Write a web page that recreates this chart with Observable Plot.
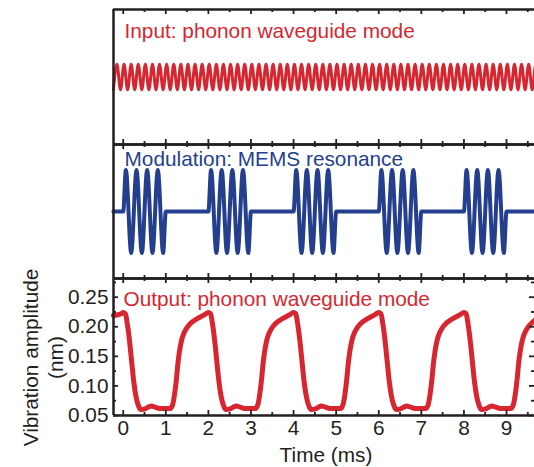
<!DOCTYPE html>
<html>
<head>
<meta charset="utf-8">
<script src="https://cdn.jsdelivr.net/npm/d3@7"></script>
<script src="https://cdn.jsdelivr.net/npm/@observablehq/plot@0.6"></script>
<style>
  html, body { margin: 0; padding: 0; background: #fff; }
  #chart { position: relative; width: 534px; height: 467px; overflow: hidden; background: #fff; }
  #chart svg { position: absolute; left: 0; top: 0; }
</style>
</head>
<body>
<div id="chart"></div>
<script>
// ---------- data ----------
// Panel titles
const inputTitle = "Input: phonon waveguide mode";
const modTitle = "Modulation: MEMS resonance";
const outTitle = "Output: phonon waveguide mode";
const yLabel = "Vibration amplitude\n(nm)";
const xLabel = "Time (ms)";

// Tick values
const xMajor = [0, 1, 2, 3, 4, 5, 6, 7, 8, 9];
const xMinor = [0.5, 1.5, 2.5, 3.5, 4.5, 5.5, 6.5, 7.5, 8.5, 9.5];
const yMajor = [0.05, 0.10, 0.15, 0.20, 0.25];
const yMinor = [0.075, 0.125, 0.175, 0.225, 0.275];

// Input wave: times (ms) of troughs and crests (schematic, unit amplitude)
const inputTroughTimes = [-0.230, -0.063, 0.103, 0.270, 0.437, 0.603, 0.770, 0.937, 1.103, 1.270, 1.437, 1.603, 1.770, 1.937,
  2.103, 2.270, 2.437, 2.603, 2.770, 2.937, 3.103, 3.270, 3.437, 3.603, 3.770, 3.937, 4.103, 4.270, 4.437, 4.603, 4.770, 4.937,
  5.103, 5.270, 5.437, 5.603, 5.770, 5.937, 6.103, 6.270, 6.437, 6.603, 6.770, 6.937, 7.103, 7.270, 7.437, 7.603, 7.770, 7.937,
  8.103, 8.270, 8.437, 8.603, 8.770, 8.937, 9.103, 9.270, 9.437, 9.603, 9.770];
const inputCrestTimes = [-0.147, 0.020, 0.187, 0.353, 0.520, 0.687, 0.853, 1.020, 1.187, 1.353, 1.520, 1.687, 1.853, 2.020,
  2.187, 2.353, 2.520, 2.687, 2.853, 3.020, 3.187, 3.353, 3.520, 3.687, 3.853, 4.020, 4.187, 4.353, 4.520, 4.687, 4.853, 5.020,
  5.187, 5.353, 5.520, 5.687, 5.853, 6.020, 6.187, 6.353, 6.520, 6.687, 6.853, 7.020, 7.187, 7.353, 7.520, 7.687, 7.853, 8.020,
  8.187, 8.353, 8.520, 8.687, 8.853, 9.020, 9.187, 9.353, 9.520, 9.687];
const inputCrest = 1, inputTrough = -1;

// Modulation (MEMS drive bursts): time (ms) and normalized displacement
const modTime = [-0.23,
  0, 0.0625, 0.1875, 0.3125, 0.4375, 0.5625, 0.6875, 0.8125, 0.9375, 1,
  2, 2.0625, 2.1875, 2.3125, 2.4375, 2.5625, 2.6875, 2.8125, 2.9375, 3,
  4, 4.0625, 4.1875, 4.3125, 4.4375, 4.5625, 4.6875, 4.8125, 4.9375, 5,
  6, 6.0625, 6.1875, 6.3125, 6.4375, 6.5625, 6.6875, 6.8125, 6.9375, 7,
  8, 8.0625, 8.1875, 8.3125, 8.4375, 8.5625, 8.6875, 8.8125, 8.9375, 9,
  9.66];
const modValue = [0,
  0, 1, -1, 1, -1, 1, -1, 1, -1, 0,
  0, 1, -1, 1, -1, 1, -1, 1, -1, 0,
  0, 1, -1, 1, -1, 1, -1, 1, -1, 0,
  0, 1, -1, 1, -1, 1, -1, 1, -1, 0,
  0, 1, -1, 1, -1, 1, -1, 1, -1, 0,
  0];

// Output: measured vibration amplitude (nm) vs time (ms)
const outTime = [-0.23, -0.15, -0.05,
  0.00, 0.05, 0.10, 0.15, 0.20, 0.25, 0.30, 0.35, 0.42, 0.50, 0.58, 0.66, 0.75, 0.85, 1.00, 1.10, 1.16, 1.21, 1.25, 1.28, 1.32, 1.37, 1.43, 1.50, 1.60, 1.70, 1.80, 1.90,
  2.00, 2.05, 2.10, 2.15, 2.20, 2.25, 2.30, 2.35, 2.42, 2.50, 2.58, 2.66, 2.75, 2.85, 3.00, 3.10, 3.16, 3.21, 3.25, 3.28, 3.32, 3.37, 3.43, 3.50, 3.60, 3.70, 3.80, 3.90,
  4.00, 4.05, 4.10, 4.15, 4.20, 4.25, 4.30, 4.35, 4.42, 4.50, 4.58, 4.66, 4.75, 4.85, 5.00, 5.10, 5.16, 5.21, 5.25, 5.28, 5.32, 5.37, 5.43, 5.50, 5.60, 5.70, 5.80, 5.90,
  6.00, 6.05, 6.10, 6.15, 6.20, 6.25, 6.30, 6.35, 6.42, 6.50, 6.58, 6.66, 6.75, 6.85, 7.00, 7.10, 7.16, 7.21, 7.25, 7.28, 7.32, 7.37, 7.43, 7.50, 7.60, 7.70, 7.80, 7.90,
  8.00, 8.05, 8.10, 8.15, 8.20, 8.25, 8.30, 8.35, 8.42, 8.50, 8.58, 8.66, 8.75, 8.85, 9.00, 9.10, 9.16, 9.21, 9.25, 9.28, 9.32, 9.37, 9.43, 9.50, 9.60, 9.66];
const outAmp = [0.219, 0.220, 0.222,
  0.224, 0.222, 0.203, 0.175, 0.140, 0.106, 0.082, 0.068, 0.060, 0.061, 0.064, 0.066, 0.064, 0.062, 0.062, 0.062, 0.068, 0.088, 0.112, 0.135, 0.158, 0.177, 0.190, 0.199, 0.207, 0.212, 0.216, 0.220,
  0.224, 0.222, 0.203, 0.175, 0.140, 0.106, 0.082, 0.068, 0.060, 0.061, 0.064, 0.066, 0.064, 0.062, 0.062, 0.062, 0.068, 0.088, 0.112, 0.135, 0.158, 0.177, 0.190, 0.199, 0.207, 0.212, 0.216, 0.220,
  0.224, 0.222, 0.203, 0.175, 0.140, 0.106, 0.082, 0.068, 0.060, 0.061, 0.064, 0.066, 0.064, 0.062, 0.062, 0.062, 0.068, 0.088, 0.112, 0.135, 0.158, 0.177, 0.190, 0.199, 0.207, 0.212, 0.216, 0.220,
  0.224, 0.222, 0.203, 0.175, 0.140, 0.106, 0.082, 0.068, 0.060, 0.061, 0.064, 0.066, 0.064, 0.062, 0.062, 0.062, 0.068, 0.088, 0.112, 0.135, 0.158, 0.177, 0.190, 0.199, 0.207, 0.212, 0.216, 0.220,
  0.224, 0.222, 0.203, 0.175, 0.140, 0.106, 0.082, 0.068, 0.060, 0.061, 0.064, 0.066, 0.064, 0.062, 0.062, 0.062, 0.068, 0.088, 0.112, 0.135, 0.158, 0.177, 0.190, 0.199, 0.207, 0.211];

// ---------- layout & style ----------
const W = 534, H = 467;
const LEFT = 113;
const xDomain = [-0.228, 9.657];
const RED = "#d7262f", BLUE = "#253f8f", INK = "#231f20";
const FONT = "'Liberation Sans', Arial, Helvetica, sans-serif";
const FS = 20.8;
const BORDER = 2.5, TICKW = 1.8, MAJ = 5, MIN = 3;

const inputData = [
  ...inputTroughTimes.map(t => ({t, v: inputTrough})),
  ...inputCrestTimes.map(t => ({t, v: inputCrest}))
].sort((a, b) => a.t - b.t);
const modData = modTime.map((t, i) => ({t, v: modValue[i]}));
const outData = outTime.map((t, i) => ({t, v: outAmp[i]}));

function frameMarks(ph) {
  return [
    Plot.ruleX(xMajor, {x: d => d, insetTop: ph - MAJ, stroke: INK, strokeWidth: TICKW}),
    Plot.ruleX(xMinor, {x: d => d, insetTop: ph - MIN, stroke: INK, strokeWidth: TICKW}),
    Plot.ruleX(xMajor, {x: d => d, insetBottom: ph - MAJ, stroke: INK, strokeWidth: TICKW}),
    Plot.ruleX(xMinor, {x: d => d, insetBottom: ph - MIN, stroke: INK, strokeWidth: TICKW}),
  ];
}
function borders(yDomain) {
  return [
    Plot.ruleX([xDomain[0]], {x: d => d, stroke: INK, strokeWidth: BORDER}),
    Plot.ruleY([yDomain[1]], {y: d => d, stroke: INK, strokeWidth: BORDER}),
    Plot.ruleY([yDomain[0]], {y: d => d, stroke: INK, strokeWidth: BORDER}),
  ];
}
function panel(top, bottom, yDomain, marks) {
  return Plot.plot({
    width: W, height: H,
    marginTop: top, marginBottom: H - bottom, marginLeft: LEFT, marginRight: 0,
    x: {domain: xDomain, axis: null},
    y: {domain: yDomain, axis: null},
    style: {fontFamily: FONT, fontSize: FS + "px", color: INK, background: "transparent", overflow: "visible"},
    marks
  });
}

// Top: input
const topDom = [-5.3, 5.3];
const p1 = panel(9, 144, topDom, [
  Plot.line(inputData, {x: "t", y: "v", stroke: RED, strokeWidth: 3, curve: "monotone-x"}),
  Plot.text([inputTitle], {text: d => d, frameAnchor: "top-left", dx: 11, dy: 28.5, textAnchor: "start", lineAnchor: "bottom", fill: RED, fontSize: FS}),
  ...frameMarks(135),
  ...borders(topDom)
]);

// Middle: modulation
const midDom = [-1.61, 1.61];
const p2 = panel(144, 278, midDom, [
  Plot.line(modData, {x: "t", y: "v", stroke: BLUE, strokeWidth: 4, curve: "monotone-x"}),
  Plot.text([modTitle], {text: d => d, frameAnchor: "top-left", dx: 11, dy: 21, textAnchor: "start", lineAnchor: "bottom", fill: BLUE, fontSize: FS}),
  ...frameMarks(134),
  ...borders(midDom)
]);

// Bottom: output
const botDom = [0.05, 0.2816];
const pw = W - LEFT;
const p3 = panel(278, 415, botDom, [
  Plot.line(outData, {x: "t", y: "v", stroke: RED, strokeWidth: 5, curve: "monotone-x"}),
  Plot.text([outTitle], {text: d => d, frameAnchor: "top-left", dx: 10, dy: 27, textAnchor: "start", lineAnchor: "bottom", fill: RED, fontSize: FS}),
  ...frameMarks(137),
  Plot.ruleY(yMajor, {y: d => d, insetRight: pw - MAJ, stroke: INK, strokeWidth: TICKW}),
  Plot.ruleY(yMinor, {y: d => d, insetRight: pw - MIN, stroke: INK, strokeWidth: TICKW}),
  Plot.ruleY(yMajor, {y: d => d, insetLeft: pw - MAJ, stroke: INK, strokeWidth: TICKW}),
  Plot.ruleY(yMinor, {y: d => d, insetLeft: pw - MIN, stroke: INK, strokeWidth: TICKW}),
  ...borders(botDom),
  Plot.axisX({ticks: xMajor, tickSize: 0, tickPadding: 5, label: null, fontSize: FS, tickFormat: d => String(d)}),
  Plot.axisY({ticks: yMajor, tickSize: 0, tickPadding: 5, label: null, fontSize: FS, tickFormat: d3.format(".2f")}),
  Plot.text([xLabel], {text: d => d, frameAnchor: "bottom", dx: 2, dy: 46, textAnchor: "middle", lineAnchor: "bottom", fill: INK, fontSize: FS}),
  Plot.text([yLabel], {text: d => d, frameAnchor: "left", dx: -93, dy: 10.5, rotate: -90, textAnchor: "middle", lineAnchor: "top", lineHeight: 1.2, fill: INK, fontSize: FS})
]);

document.getElementById("chart").append(p1, p2, p3);
</script>
</body>
</html>
